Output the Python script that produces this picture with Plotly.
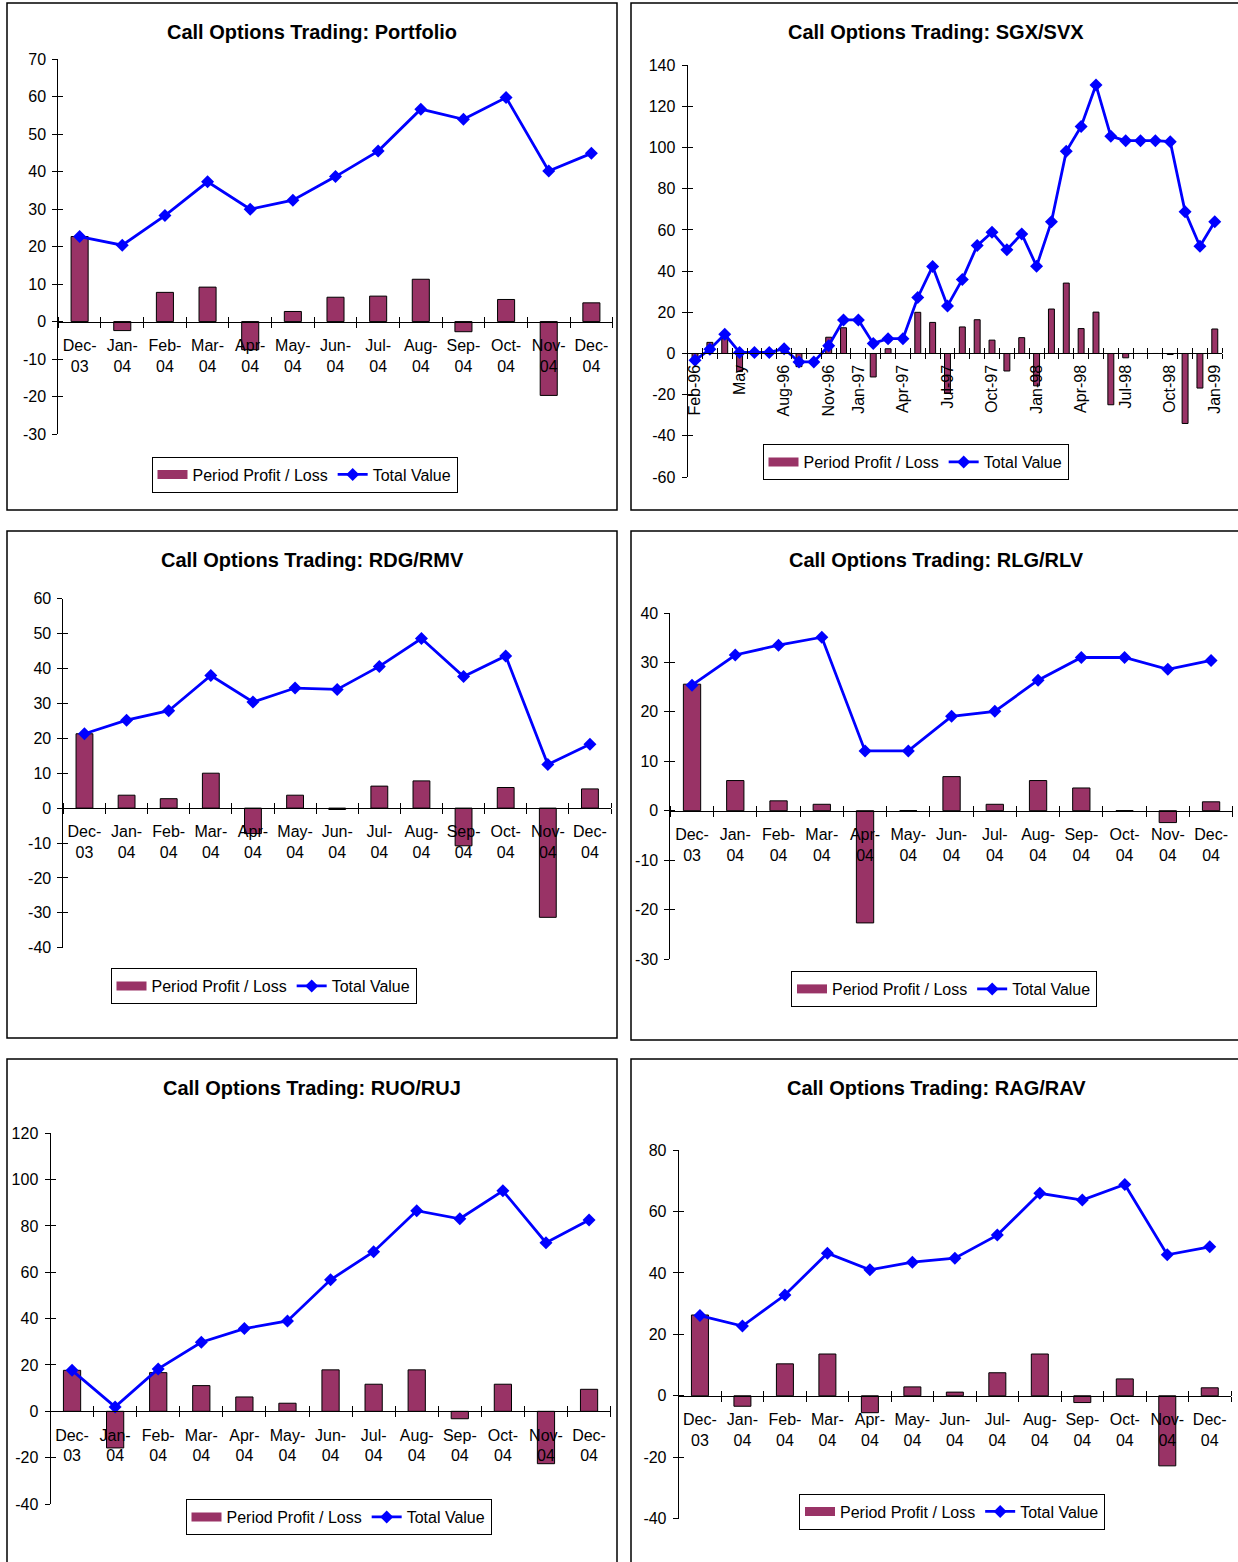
import plotly.graph_objects as go

W, H = 1238, 1562
FONT = "Liberation Sans, Arial, sans-serif"
BAR_COLOR = "#993366"
LINE_COLOR = "#0000FF"

# ---- data -------------------------------------------------------------
months_04 = ["Dec-03", "Jan-04", "Feb-04", "Mar-04", "Apr-04", "May-04", "Jun-04",
             "Jul-04", "Aug-04", "Sep-04", "Oct-04", "Nov-04", "Dec-04"]

portfolio_pl = [22.7, -2.4, 7.8, 9.2, -7.5, 2.7, 6.5, 6.8, 11.3, -2.7, 5.9, -19.7, 5.0]
portfolio_tv = [22.7, 20.4, 28.3, 37.3, 30.0, 32.4, 38.7, 45.5, 56.7, 54.0, 59.8, 40.2, 44.9]

rdg_pl = [21.3, 3.7, 2.7, 10.0, -7.3, 3.7, -0.4, 6.3, 7.8, -10.8, 5.9, -31.3, 5.5]
rdg_tv = [21.3, 25.2, 27.9, 38.0, 30.4, 34.4, 34.0, 40.6, 48.6, 37.7, 43.6, 12.5, 18.3]

rlg_pl = [25.6, 6.1, 2.0, 1.3, -22.7, 0.0, 6.9, 1.3, 6.1, 4.6, 0.0, -2.4, 1.8]
rlg_tv = [25.4, 31.5, 33.5, 35.1, 12.1, 12.1, 19.1, 20.1, 26.4, 31.0, 31.0, 28.6, 30.4]

ruo_pl = [17.7, -15.8, 16.7, 11.1, 6.2, 3.5, 17.9, 11.7, 17.9, -3.2, 11.7, -22.6, 9.5]
ruo_tv = [17.7, 1.9, 18.3, 29.8, 35.7, 39.0, 56.8, 68.9, 86.6, 83.1, 95.2, 72.8, 82.6]

rag_pl = [26.3, -3.4, 10.4, 13.6, -5.5, 2.9, 1.2, 7.5, 13.6, -2.2, 5.5, -22.8, 2.6]
rag_tv = [26.1, 22.7, 32.8, 46.4, 41.0, 43.5, 44.8, 52.3, 65.9, 63.7, 68.8, 45.9, 48.5]

sgx_months = ["Feb-96", "Mar-96", "Apr-96", "May-96", "Jun-96", "Jul-96", "Aug-96",
              "Sep-96", "Oct-96", "Nov-96", "Dec-96", "Jan-97", "Feb-97", "Mar-97",
              "Apr-97", "May-97", "Jun-97", "Jul-97", "Aug-97", "Sep-97", "Oct-97",
              "Nov-97", "Dec-97", "Jan-98", "Feb-98", "Mar-98", "Apr-98", "May-98",
              "Jun-98", "Jul-98", "Aug-98", "Sep-98", "Oct-98", "Nov-98", "Dec-98",
              "Jan-99"]
sgx_pl = [-3.3, 5.4, 7.2, -8.8, 0.0, 0.0, 1.8, -6.4, 0.0, 7.9, 12.5, 0.0,
          -11.4, 2.3, 0.0, 20.0, 15.1, -19.2, 12.9, 16.4, 6.5, -8.5, 7.7, -15.7,
          21.6, 34.2, 12.1, 20.1, -24.9, -2.1, 0.0, 0.0, -0.5, -34.0, -16.8, 11.9]
sgx_tv = [-3.3, 2.1, 9.3, 0.5, 0.5, 0.5, 2.3, -4.1, -4.1, 3.8, 16.3, 16.3,
          4.9, 7.2, 7.2, 27.2, 42.3, 23.1, 36.0, 52.4, 58.9, 50.4, 58.1, 42.4,
          64.0, 98.2, 110.3, 130.4, 105.5, 103.4, 103.4, 103.4, 102.9, 68.9, 52.1, 64.0]
# months that carry a visible axis label, and the text shown for them
sgx_label_months = ["Feb-96", "May-96", "Aug-96", "Nov-96", "Jan-97", "Apr-97", "Jul-97",
                    "Oct-97", "Jan-98", "Apr-98", "Jul-98", "Oct-98", "Jan-99"]
sgx_label_text = ["Feb-96", "May", "Aug-96", "Nov-96", "Jan-97", "Apr-97", "Jul-97",
                  "Oct-97", "Jan-98", "Apr-98", "Jul-98", "Oct-98", "Jan-99"]

# ---- panel layout (pixel geometry of each chart box) -------------------
panels = [
    dict(title="Call Options Trading: Portfolio", months=months_04, pl=portfolio_pl, tv=portfolio_tv,
         yr=(-30, 70), dy=10, xpx=(58.3, 612.7), ypx=(59.3, 434.0),
         frame=(7, 3, 617, 510), tpos=(312, 32), leg=(304.5, 474.5)),
    dict(title="Call Options Trading: SGX/SVX", months=sgx_months, pl=sgx_pl, tv=sgx_tv,
         yr=(-60, 140), dy=20, xpx=(687.6, 1222.2), ypx=(65.3, 477.0),
         frame=(631, 3, 1241, 510), tpos=(936, 32), leg=(915.5, 462)),
    dict(title="Call Options Trading: RDG/RMV", months=months_04, pl=rdg_pl, tv=rdg_tv,
         yr=(-40, 60), dy=10, xpx=(63.4, 611.0), ypx=(598.7, 947.7),
         frame=(7, 531, 617, 1038), tpos=(312, 560), leg=(263.5, 986)),
    dict(title="Call Options Trading: RLG/RLV", months=months_04, pl=rlg_pl, tv=rlg_tv,
         yr=(-30, 40), dy=10, xpx=(670.4, 1232.7), ypx=(613.0, 959.0),
         frame=(631, 531, 1241, 1040), tpos=(936, 560), leg=(944, 989)),
    dict(title="Call Options Trading: RUO/RUJ", months=months_04, pl=ruo_pl, tv=ruo_tv,
         yr=(-40, 120), dy=20, xpx=(50.5, 610.6), ypx=(1133.3, 1504.0),
         frame=(7, 1059, 617, 1566), tpos=(312, 1088), leg=(338.5, 1517)),
    dict(title="Call Options Trading: RAG/RAV", months=months_04, pl=rag_pl, tv=rag_tv,
         yr=(-40, 80), dy=20, xpx=(678.7, 1231.0), ypx=(1150.0, 1518.7),
         frame=(631, 1059, 1241, 1566), tpos=(936, 1088), leg=(952, 1511.5)),
]
NP = len(panels)


def fx(px):
    return px / W


def fy(py):
    return 1 - py / H


fig = go.Figure()
layout = {}
shapes = []
annotations = []

for k, p in enumerate(panels, start=1):
    sfx = "" if k == 1 else str(k)
    xname, yname, lname = f"x{sfx}", f"y{sfx}", f"legend{sfx}"
    # companion axes that draw the inner half of the crossing tick marks
    xo, yo = f"x{k + NP}", f"y{k + NP}"
    n = len(p["months"])
    pos = list(range(n))
    ymin, ymax = p["yr"]
    ytop, ybot = p["ypx"]
    zero_px = ytop + (ymax - 0) / (ymax - ymin) * (ybot - ytop)

    # bars carry the data; the legend swatch is a wide plum band like the
    # classic spreadsheet key
    fig.add_trace(go.Bar(
        x=pos, y=p["pl"], width=0.4, name="Period Profit / Loss",
        marker=dict(color=BAR_COLOR, line=dict(color="black", width=1)),
        xaxis=xname, yaxis=yname, showlegend=False))
    fig.add_trace(go.Scatter(
        x=[None], y=[None], mode="lines", name="Period Profit / Loss",
        line=dict(color=BAR_COLOR, width=9),
        xaxis=xname, yaxis=yname, legend=lname, showlegend=True))
    fig.add_trace(go.Scatter(
        x=pos, y=p["tv"], mode="lines+markers", name="Total Value",
        line=dict(color=LINE_COLOR, width=2.8),
        marker=dict(symbol="diamond", size=10, color=LINE_COLOR),
        xaxis=xname, yaxis=yname, legend=lname, showlegend=True, cliponaxis=False))
    fig.add_trace(go.Scatter(x=[None], y=[None], mode="markers", xaxis=xo, yaxis=yo,
                             showlegend=False, hoverinfo="skip"))

    if n > 20:
        tickvals = [p["months"].index(m) for m in sgx_label_months]
        ticktext = sgx_label_text
        tickangle = -90
        standoff = 4
    else:
        tickvals = pos
        ticktext = [m.replace("-", "-<br>") for m in p["months"]]
        tickangle = 0
        standoff = 9

    boundaries = [i - 0.5 for i in range(n + 1)]
    xdom = [fx(p["xpx"][0]), fx(p["xpx"][1])]
    layout[f"xaxis{sfx}"] = dict(
        domain=xdom, range=[-0.5, n - 0.5], anchor="free", position=fy(zero_px),
        showline=True, linecolor="black", linewidth=1,
        showgrid=False, zeroline=False, fixedrange=True,
        tickmode="array", tickvals=tickvals, ticktext=ticktext,
        tickangle=tickangle, ticks="", ticklabelstandoff=standoff,
        tickfont=dict(family=FONT, size=16, color="black"),
        minor=dict(tickmode="array", tickvals=boundaries,
                   ticks="outside", ticklen=5, tickcolor="black", tickwidth=1,
                   showgrid=False),
    )
    layout[f"xaxis{k + NP}"] = dict(
        overlaying=xname, domain=xdom, range=[-0.5, n - 0.5], anchor="free",
        position=fy(zero_px), showline=False, showgrid=False, zeroline=False,
        showticklabels=False, ticks="", fixedrange=True,
        minor=dict(tickmode="array", tickvals=boundaries,
                   ticks="inside", ticklen=5, tickcolor="black", tickwidth=1,
                   showgrid=False),
    )
    yvals = list(range(ymin, ymax + 1, p["dy"]))
    ydom = [fy(ybot), fy(ytop)]
    layout[f"yaxis{sfx}"] = dict(
        domain=ydom, range=[ymin, ymax], anchor=xname,
        tickmode="array", tickvals=yvals, ticktext=[str(v) for v in yvals],
        showline=True, linecolor="black", linewidth=1,
        ticks="outside", ticklen=5, tickcolor="black", ticklabelstandoff=3,
        showgrid=False, zeroline=False, fixedrange=True,
        tickfont=dict(family=FONT, size=16, color="black"),
    )
    layout[f"yaxis{k + NP}"] = dict(
        overlaying=yname, domain=ydom, range=[ymin, ymax], anchor=xo, side="left",
        tickmode="array", tickvals=yvals, showticklabels=False,
        ticks="inside", ticklen=5, tickcolor="black",
        showline=False, showgrid=False, zeroline=False, fixedrange=True,
    )
    layout[lname] = dict(
        x=fx(p["leg"][0]), y=fy(p["leg"][1]), xanchor="center", yanchor="middle",
        orientation="h", bgcolor="white", bordercolor="black", borderwidth=1,
        font=dict(family=FONT, size=16, color="black"), traceorder="normal",
        itemwidth=30,
    )

    x0, y0, x1, y1 = p["frame"]
    shapes.append(dict(type="rect", xref="paper", yref="paper",
                       x0=fx(x0), y0=fy(y1), x1=fx(x1), y1=fy(y0),
                       line=dict(color="black", width=1.5), layer="below"))
    annotations.append(dict(text=f"<b>{p['title']}</b>", xref="paper", yref="paper",
                            x=fx(p["tpos"][0]), y=fy(p["tpos"][1]),
                            xanchor="center", yanchor="middle", showarrow=False,
                            font=dict(family=FONT, size=20, color="black")))

fig.update_layout(
    width=W, height=H, margin=dict(l=0, r=0, t=0, b=0),
    paper_bgcolor="white", plot_bgcolor="rgba(0,0,0,0)",
    template="none", bargap=0.6, showlegend=True,
    shapes=shapes, annotations=annotations,
    **layout,
)

fig.write_html("out.html")
